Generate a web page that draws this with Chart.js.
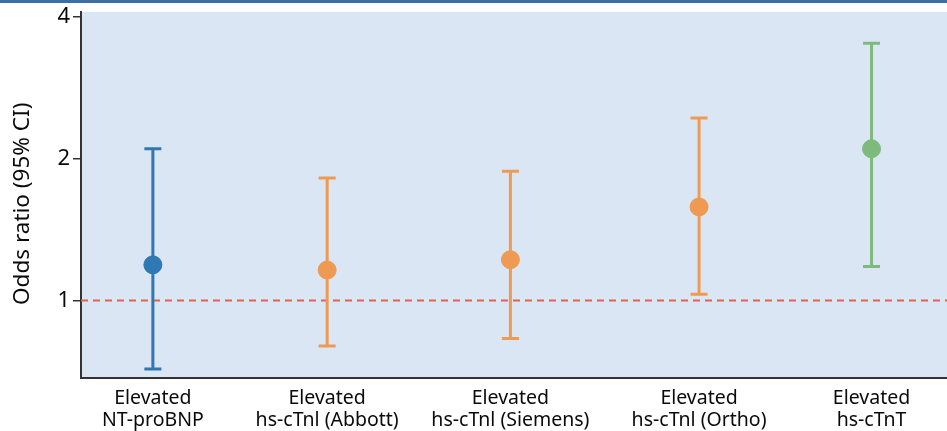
<!DOCTYPE html>
<html>
<head>
<meta charset="utf-8">
<script src="https://cdn.jsdelivr.net/npm/chart.js@4"></script>
<style>
  body { margin: 0; background: #fff; }
  #wrap { width: 947px; height: 428px; border-top: 3px solid #3b6fa6; }
</style>
</head>
<body>
<div id="wrap"><canvas id="orChart" width="947" height="428"></canvas></div>
<script>
// Chart data
const categories = [
    ['Elevated', 'NT-proBNP'],
    ['Elevated', 'hs-cTnl (Abbott)'],
    ['Elevated', 'hs-cTnl (Siemens)'],
    ['Elevated', 'hs-cTnl (Ortho)'],
    ['Elevated', 'hs-cTnT']
];
const xPositions = [1, 1.97, 2.99, 4.04, 5];
const oddsRatio = [1.19, 1.16, 1.22, 1.58, 2.10];
const ciLower = [0.715, 0.80, 0.83, 1.03, 1.18];
const ciUpper = [2.10, 1.82, 1.88, 2.44, 3.52];
const yTicks = [1, 2, 4];
const refValue = 1;

const pointColors = ['#2f78b4', '#ef9a52', '#ef9a52', '#ef9a52', '#7dba7b'];
const fontFamily = "'Noto Sans', 'Open Sans', sans-serif";

// Light blue panel behind the plot
const panelBackground = {
    id: 'panelBackground',
    beforeDraw(chart) {
        const { ctx, chartArea } = chart;
        ctx.save();
        ctx.fillStyle = '#dbe6f4';
        ctx.fillRect(chartArea.left, chartArea.top, chartArea.right - chartArea.left, chartArea.bottom - chartArea.top);
        ctx.restore();
    }
};

// Confidence interval whiskers, drawn just before the points
const errorBars = {
    id: 'errorBars',
    beforeDatasetDraw(chart, args) {
        if (args.index !== 1) return;
        const { ctx, scales } = chart;
        ctx.save();
        ctx.lineWidth = 3;
        xPositions.forEach((xv, i) => {
            const x = scales.x.getPixelForValue(xv);
            const yLo = scales.y.getPixelForValue(ciLower[i]);
            const yHi = scales.y.getPixelForValue(ciUpper[i]);
            ctx.strokeStyle = pointColors[i];
            ctx.beginPath();
            ctx.moveTo(x, yLo);
            ctx.lineTo(x, yHi);
            ctx.moveTo(x - 8.5, yLo);
            ctx.lineTo(x + 8.5, yLo);
            ctx.moveTo(x - 8.5, yHi);
            ctx.lineTo(x + 8.5, yHi);
            ctx.stroke();
        });
        ctx.restore();
    }
};

const ctx = document.getElementById('orChart').getContext('2d');
new Chart(ctx, {
    type: 'scatter',
    data: {
        datasets: [{
            type: 'line',
            data: [{ x: 0.6, y: refValue }, { x: 5.42, y: refValue }],
            borderColor: '#e8604c',
            borderWidth: 2,
            borderDash: [7, 5],
            pointRadius: 0,
            order: 2
        }, {
            data: xPositions.map((x, i) => ({ x: x, y: oddsRatio[i] })),
            backgroundColor: pointColors,
            borderColor: pointColors,
            pointRadius: 9,
            pointHoverRadius: 9,
            order: 1
        }]
    },
    options: {
        responsive: false,
        animation: false,
        layout: { autoPadding: false, padding: { top: 9, right: 0, left: 0, bottom: 0 } },
        plugins: {
            legend: { display: false },
            tooltip: { enabled: false }
        },
        scales: {
            x: {
                type: 'linear',
                min: 0.6,
                max: 5.42,
                afterBuildTicks: s => { s.ticks = xPositions.map(v => ({ value: v })); },
                afterFit: s => {
                    s.height = 53;
                    s.paddingLeft = 0;
                    s.paddingRight = 0;
                },
                ticks: {
                    callback: v => categories[xPositions.indexOf(v)],
                    font: { family: fontFamily, size: 19.5, lineHeight: 1.1 },
                    color: '#0a0a0a',
                    maxRotation: 0,
                    autoSkip: false,
                    padding: 2
                },
                grid: { display: false },
                border: { color: '#333', width: 2 }
            },
            y: {
                type: 'logarithmic',
                min: 0.684,
                max: 4.1,
                afterBuildTicks: s => { s.ticks = yTicks.map(v => ({ value: v })); },
                afterFit: s => {
                    s.width = 81;
                    s.paddingTop = 0;
                    s.paddingBottom = 0;
                },
                ticks: {
                    callback: v => String(v),
                    font: { family: fontFamily, size: 22 },
                    color: '#0a0a0a',
                    padding: 3
                },
                grid: { drawOnChartArea: false, tickLength: 8, color: '#333', lineWidth: 1.5 },
                border: { color: '#333', width: 2 },
                title: {
                    display: true,
                    text: 'Odds ratio (95% CI)   ',
                    font: { family: fontFamily, size: 22.5 },
                    color: '#0a0a0a',
                    padding: { top: 9, bottom: 0 }
                }
            }
        }
    },
    plugins: [panelBackground, errorBars]
});
</script>
</body>
</html>
